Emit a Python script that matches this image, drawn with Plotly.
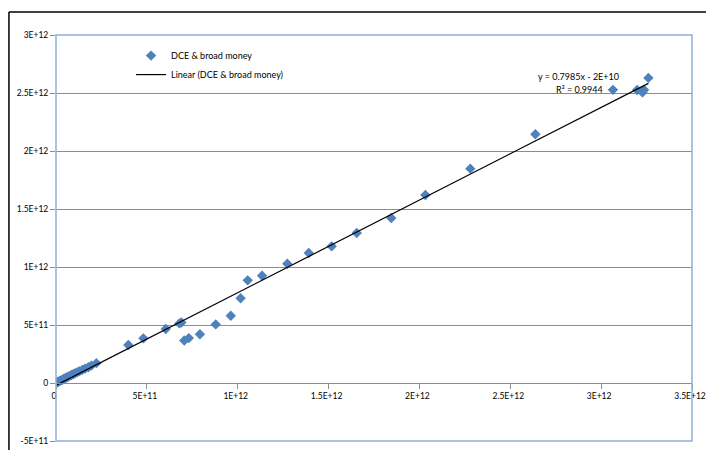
import plotly.graph_objects as go

# Data (units of 1E12)
dce = [0.005, 0.010, 0.016, 0.022, 0.028, 0.035, 0.042, 0.050, 0.058, 0.066,
       0.075, 0.085, 0.095, 0.105, 0.118, 0.130, 0.145, 0.160, 0.178, 0.195,
       0.222, 0.398, 0.481, 0.604, 0.679, 0.690, 0.706, 0.731, 0.792, 0.879,
       0.962, 1.016, 1.055, 1.134, 1.273, 1.391, 1.517, 1.655, 1.845, 2.033,
       2.280, 2.638, 3.065, 3.198, 3.223, 3.236, 3.228, 3.260]
broad = [0.004, 0.009, 0.013, 0.018, 0.023, 0.028, 0.034, 0.041, 0.047, 0.053,
         0.061, 0.069, 0.076, 0.084, 0.094, 0.102, 0.113, 0.124, 0.136, 0.150,
         0.171, 0.328, 0.385, 0.465, 0.514, 0.522, 0.366, 0.387, 0.420, 0.505,
         0.580, 0.731, 0.885, 0.925, 1.028, 1.121, 1.178, 1.293, 1.422, 1.621,
         1.848, 2.145, 2.527, 2.526, 2.514, 2.527, 2.506, 2.630]

scale = 1e12
x_vals = [v * scale for v in dce]
y_vals = [v * scale for v in broad]

slope = 0.7985
intercept = -2e10
r2 = 0.9944

x_tickvals = [0, 5e11, 1e12, 1.5e12, 2e12, 2.5e12, 3e12, 3.5e12]
x_ticktext = ["0", "5E+11", "1E+12", "1.5E+12", "2E+12", "2.5E+12", "3E+12", "3.5E+12"]
y_tickvals = [-5e11, 0, 5e11, 1e12, 1.5e12, 2e12, 2.5e12, 3e12]
y_ticktext = ["-5E+11", "0", "5E+11", "1E+12", "1.5E+12", "2E+12", "2.5E+12", "3E+12"]

FONT = "Lato, 'Open Sans', sans-serif"

fig = go.Figure()
fig.add_trace(go.Scatter(
    x=x_vals, y=y_vals, mode="markers", name="DCE & broad money",
    marker=dict(symbol="diamond", size=8, color="#4F81BD"),
))
tx = [min(x_vals), max(x_vals)]
ty = [slope * v + intercept for v in tx]
fig.add_trace(go.Scatter(
    x=tx, y=ty, mode="lines", name="Linear (DCE & broad money)",
    line=dict(color="black", width=1.2),
))

fig.update_layout(
    width=706, height=450,
    margin=dict(l=56, r=14, t=35, b=9, autoexpand=False),
    paper_bgcolor="white", plot_bgcolor="white",
    font=dict(family=FONT, size=9, color="black"),
    showlegend=True,
    legend=dict(x=0.118, y=0.985, xanchor="left", yanchor="top", itemwidth=30,
                bgcolor="rgba(0,0,0,0)", font=dict(size=9), tracegroupgap=0),
    xaxis=dict(range=[0, 3.5e12], tickvals=x_tickvals, ticktext=x_ticktext,
               showgrid=False, zeroline=False, showline=True, linecolor="#8C8C8C",
               linewidth=1, ticks="outside", ticklen=5, tickcolor="#8C8C8C",
               anchor="free", position=1/7, tickfont=dict(size=8.5),
               automargin=False, ticklabeloverflow="allow", ticklabelshift=-2),
    yaxis=dict(range=[-5e11, 3e12], tickvals=y_tickvals, ticktext=y_ticktext,
               showgrid=True, gridcolor="#8C8C8C", gridwidth=1, zeroline=False,
               showline=False, ticks="outside", ticklen=5, tickcolor="#8C8C8C",
               tickfont=dict(size=8.5), automargin=False),
    shapes=[
        dict(type="rect", xref="paper", yref="paper", x0=0, y0=0, x1=1, y1=1,
             line=dict(color="#8EB0DA", width=1.5), layer="above"),
        dict(type="line", xref="paper", yref="paper", x0=-0.074, y0=-0.1, x1=-0.074, y1=1.0567,
             line=dict(color="black", width=1.5)),
        dict(type="line", xref="paper", yref="paper", x0=-0.074, y0=1.0567, x1=1.1, y1=1.0567,
             line=dict(color="black", width=1.5)),
    ],
    annotations=[
        dict(x=3.11e12, y=2.638e12, xref="x", yref="y", text="y = 0.7985x - 2E+10",
             showarrow=False, xanchor="right", yanchor="middle", font=dict(size=9)),
        dict(x=3.02e12, y=2.534e12, xref="x", yref="y", text=f"R² = {r2}",
             showarrow=False, xanchor="right", yanchor="middle", font=dict(size=9)),
    ],
)

fig.write_html("out.html", config={"displayModeBar": False},
               post_script="document.body.style.margin='0';")
